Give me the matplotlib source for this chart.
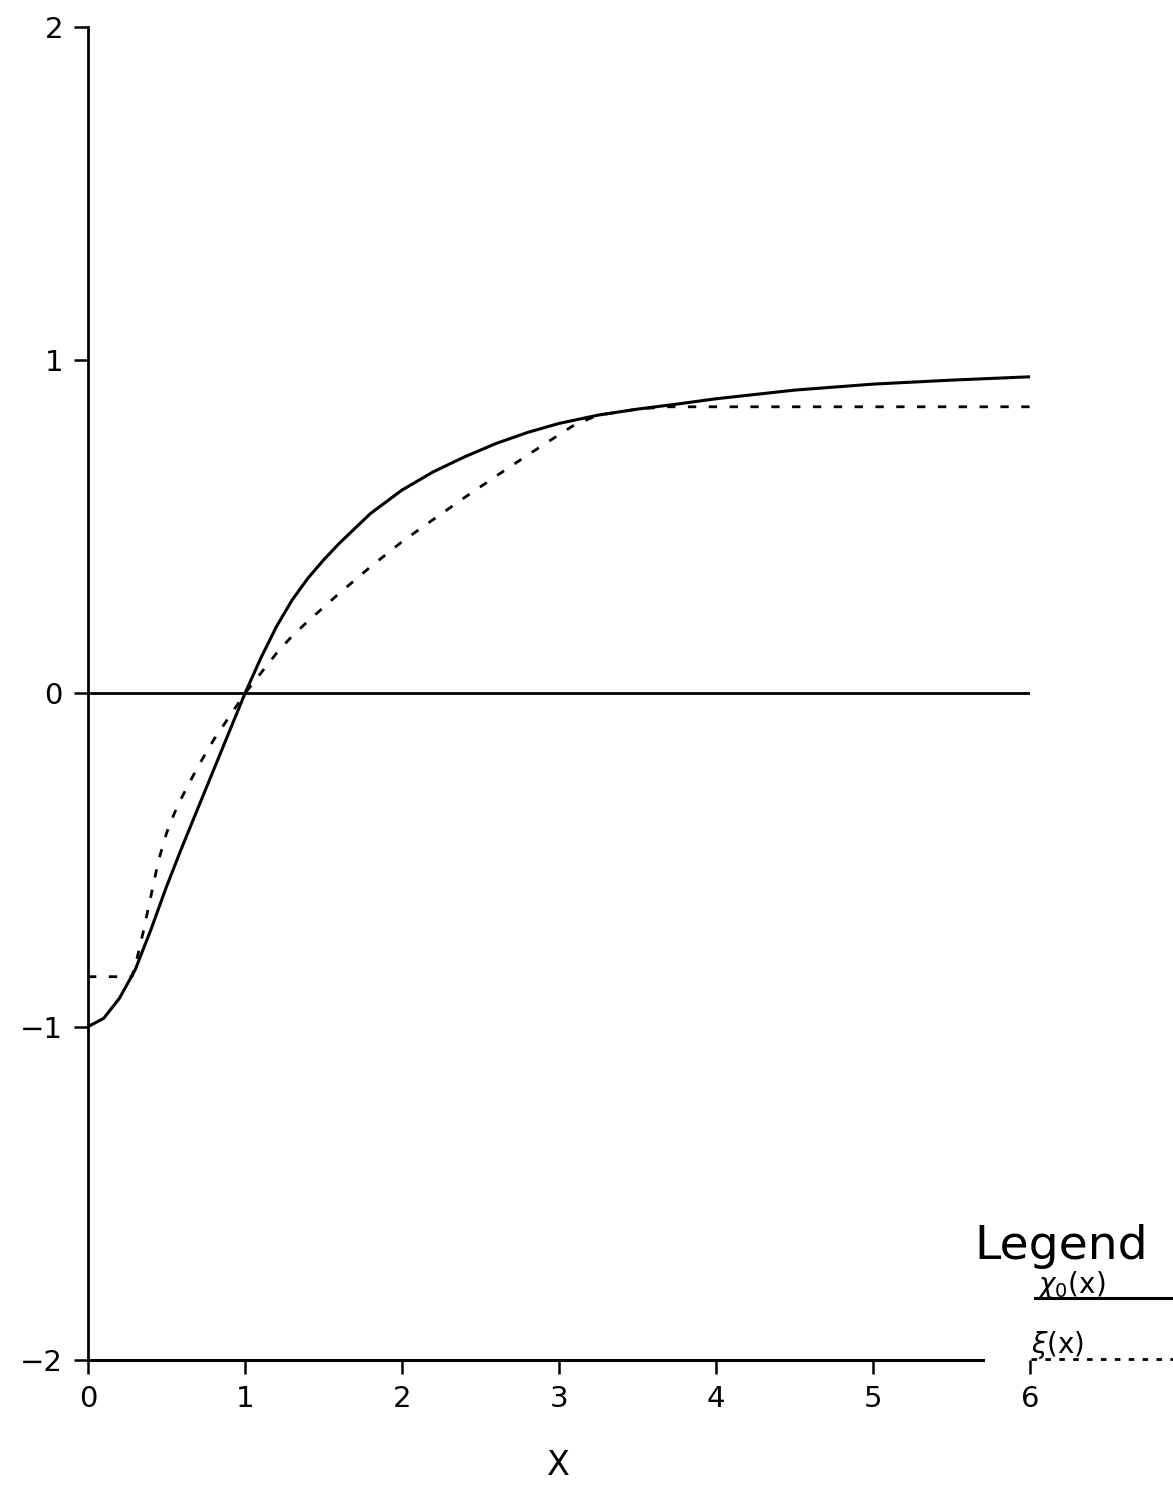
import matplotlib.pyplot as plt
from matplotlib.lines import Line2D

# chi_0(x) - solid curve
chi_x = [0.0, 0.1, 0.2, 0.3, 0.4, 0.5, 0.6, 0.7, 0.8, 0.9, 1.0, 1.1, 1.2, 1.3, 1.4,
         1.5, 1.6, 1.8, 2.0, 2.2, 2.4, 2.6, 2.8, 3.0, 3.25, 3.5, 3.75, 4.0, 4.5,
         5.0, 5.5, 6.0]
chi_y = [-1.0, -0.975, -0.915, -0.83, -0.71, -0.58, -0.46, -0.345, -0.23, -0.115,
         0.0, 0.105, 0.2, 0.28, 0.345, 0.40, 0.45, 0.54, 0.61, 0.665, 0.71, 0.75,
         0.783, 0.81, 0.835, 0.853, 0.868, 0.884, 0.91, 0.928, 0.94, 0.95]

# xi(x) - dashed curve
xi_x = [0.0, 0.28, 0.31, 0.35, 0.40, 0.45, 0.50, 0.55, 0.60, 0.70, 0.80, 0.90, 1.0,
        1.1, 1.2, 1.3, 1.4, 1.5, 1.6, 1.8, 2.0, 2.2, 2.4, 2.6, 2.8, 3.0, 3.1, 3.25,
        3.5, 3.68, 6.0]
xi_y = [-0.85, -0.85, -0.80, -0.72, -0.61, -0.50, -0.42, -0.36, -0.31, -0.22, -0.14,
        -0.07, 0.0, 0.06, 0.12, 0.172, 0.216, 0.258, 0.30, 0.38, 0.455, 0.522,
        0.588, 0.652, 0.715, 0.776, 0.806, 0.835, 0.853, 0.86, 0.86]

x_ticks = [0, 1, 2, 3, 4, 5, 6]
y_ticks = [-2, -1, 0, 1, 2]

plt.rcParams['font.family'] = ['DejaVu Sans']
plt.rcParams['mathtext.fontset'] = 'dejavusans'

fig = plt.figure(figsize=(11.73, 14.92), dpi=100)
ax = fig.add_axes([0.075, 0.0885, 0.803, 0.8935])

ax.hlines(0, 0, 6, color='black', lw=2.0)
ax.plot(xi_x, xi_y, color='black', lw=2.0, linestyle=(0, (3, 4.5)))
ax.plot(chi_x, chi_y, color='black', lw=2.2)

ax.set_xlim(0, 6)
ax.set_ylim(-2, 2)
ax.set_xticks(x_ticks)
ax.set_yticks(y_ticks)
ax.set_yticklabels([str(t).replace('-', '\u2212') for t in y_ticks])

for s in ['top', 'right']:
    ax.spines[s].set_visible(False)
ax.spines['left'].set_linewidth(2.0)
ax.spines['bottom'].set_linewidth(2.2)
ax.spines['bottom'].set_bounds(0, 5.7)
ax.tick_params(axis='both', direction='out', length=10, width=1.8,
               labelsize=21, pad=8)

ax.set_xlabel('X', fontsize=24, labelpad=26)

# legend block, outside the axes at the lower right
fig.text(0.831, 0.156, 'Legend', fontsize=34, ha='left', va='baseline')
fig.text(0.884, 0.1335, r'$\chi_0(\mathrm{x})$', fontsize=20, ha='left', va='baseline')
fig.add_artist(Line2D([0.882, 1.0], [0.130, 0.130], color='black', lw=2.2,
                      transform=fig.transFigure))
fig.text(0.879, 0.093, r'$\xi(\mathrm{x})$', fontsize=20, ha='left', va='baseline')
fig.add_artist(Line2D([0.879, 1.0], [0.089, 0.089], color='black', lw=2.0,
                      linestyle=(0, (2, 3)), transform=fig.transFigure))

fig.savefig('out.png', dpi=100, facecolor='white')
